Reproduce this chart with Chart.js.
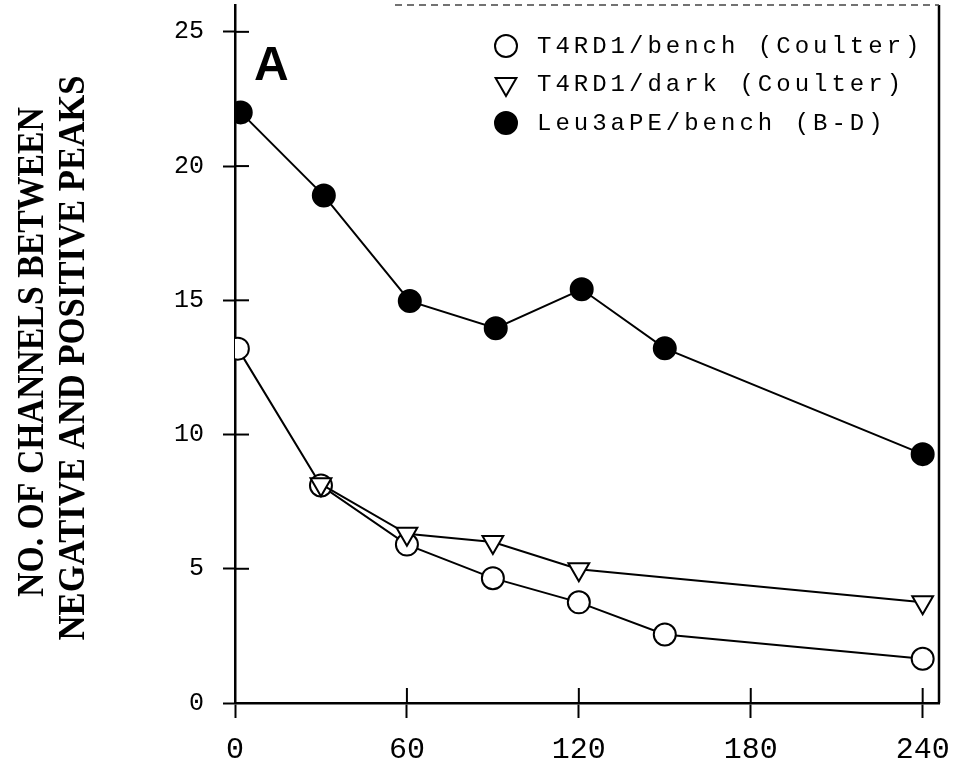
<!DOCTYPE html>
<html><head><meta charset="utf-8">
<script src="https://cdn.jsdelivr.net/npm/chart.js@4.4.1/dist/chart.umd.min.js"></script>
<style>html,body{margin:0;padding:0;background:#fff;} canvas{display:block;}</style>
</head><body>
<canvas id="c" width="963" height="771"></canvas>
<script>
const seriesLabels = ['T4RD1/bench (Coulter)', 'T4RD1/dark (Coulter)', 'Leu3aPE/bench (B-D)'];
const benchTimes = [1, 30, 60, 90, 120, 150, 240];
const benchValues = [13.2, 8.1, 5.9, 4.65, 3.75, 2.55, 1.65];
const darkTimes = [30, 60, 90, 120, 240];
const darkValues = [8.15, 6.3, 6.0, 4.98, 3.75];
const leuTimes = [2, 31, 61, 91, 121, 150, 240];
const leuValues = [22.0, 18.9, 14.97, 13.96, 15.41, 13.21, 9.27];
const xTicks = [0, 60, 120, 180, 240];
const yTicks = [0, 5, 10, 15, 20, 25];
const yTitleLines = ['NO. OF CHANNELS BETWEEN', 'NEGATIVE AND POSITIVE PEAKS'];
const panelLabel = 'A';

const pts = (xs, ys) => xs.map((x, i) => ({x: x, y: ys[i]}));

const styles = [
  {pointStyle: 'circle', rotation: 0, fill: '#fff', radius: 11},
  {pointStyle: 'triangle', rotation: 180, fill: '#fff', radius: 12},
  {pointStyle: 'circle', rotation: 0, fill: '#000', radius: 11}
];

function ds(i, xs, ys, order) {
  const s = styles[i];
  return {
    label: seriesLabels[i], data: pts(xs, ys), showLine: true, tension: 0,
    borderColor: '#000', borderWidth: 2, order: order,
    pointStyle: s.pointStyle, rotation: s.rotation, pointRadius: s.radius,
    pointHoverRadius: s.radius, pointBackgroundColor: s.fill,
    pointBorderColor: '#000', pointBorderWidth: 2
  };
}

function noPad(s) {
  s.paddingTop = 0; s.paddingBottom = 0; s.paddingLeft = 0; s.paddingRight = 0;
}

const decor = {
  id: 'decor',
  afterDraw(chart) {
    const ctx = chart.ctx, a = chart.chartArea;
    const xs = chart.scales.x, ys = chart.scales.y;
    ctx.save();
    ctx.strokeStyle = '#000';
    ctx.lineWidth = 2;
    xs.ticks.forEach(t => {
      const px = xs.getPixelForValue(t.value);
      ctx.beginPath(); ctx.moveTo(px, a.bottom); ctx.lineTo(px, a.bottom - 15); ctx.stroke();
    });
    ys.ticks.forEach(t => {
      const py = ys.getPixelForValue(t.value);
      ctx.beginPath(); ctx.moveTo(a.left, py); ctx.lineTo(a.left + 14, py); ctx.stroke();
    });
    ctx.lineWidth = 2.5;
    ctx.beginPath(); ctx.moveTo(a.right, a.top); ctx.lineTo(a.right, a.bottom); ctx.stroke();
    ctx.lineWidth = 1.5;
    ctx.strokeStyle = '#444';
    ctx.setLineDash([7, 5]);
    ctx.beginPath(); ctx.moveTo(a.left + 160, a.top); ctx.lineTo(a.right, a.top); ctx.stroke();
    ctx.setLineDash([]);
    ctx.restore();

    ctx.save();
    ctx.fillStyle = '#000';
    ctx.font = 'bold 48px "Liberation Sans", Arial, sans-serif';
    ctx.textBaseline = 'alphabetic';
    ctx.textAlign = 'left';
    ctx.fillText(panelLabel, a.left + 19, 80);
    ctx.restore();

    const centers = [[33, 352, 490], [74, 358, 565]];
    yTitleLines.forEach((txt, i) => {
      ctx.save();
      ctx.translate(centers[i][0], centers[i][1]);
      ctx.rotate(-Math.PI / 2);
      ctx.font = 'bold 37px "Liberation Serif", "Times New Roman", serif';
      const w = ctx.measureText(txt).width;
      ctx.scale(centers[i][2] / w, 1);
      ctx.fillStyle = '#000';
      ctx.textAlign = 'center';
      ctx.textBaseline = 'middle';
      ctx.fillText(txt, 0, 0);
      ctx.restore();
    });

    const rows = [46, 84, 123];
    chart.data.datasets.forEach((d, i) => {
      const s = styles[i];
      ctx.save();
      ctx.strokeStyle = '#000';
      ctx.fillStyle = s.fill;
      ctx.lineWidth = 2;
      Chart.helpers.drawPoint(ctx, {pointStyle: s.pointStyle, rotation: s.rotation, radius: s.radius, borderWidth: 2}, 506, rows[i]);
      ctx.restore();
      ctx.save();
      ctx.fillStyle = '#000';
      ctx.font = '24px "Liberation Mono", "DejaVu Sans Mono", monospace';
      try { ctx.letterSpacing = '4px'; } catch (e) {}
      ctx.textBaseline = 'middle';
      ctx.textAlign = 'left';
      ctx.fillText(d.label, 537, rows[i] + 1);
      ctx.restore();
    });
  }
};

new Chart(document.getElementById('c'), {
  type: 'scatter',
  data: {
    datasets: [
      ds(0, benchTimes, benchValues, 2),
      ds(1, darkTimes, darkValues, 1),
      ds(2, leuTimes, leuValues, 3)
    ]
  },
  options: {
    responsive: false, animation: false, devicePixelRatio: 1,
    layout: {autoPadding: false, padding: {top: 5, right: 24, left: 0, bottom: 0}},
    plugins: {legend: {display: false}, tooltip: {enabled: false}},
    scales: {
      x: {
        type: 'linear', min: 0, max: 245.7,
        afterBuildTicks: s => { s.ticks = xTicks.map(v => ({value: v})); },
        afterFit: s => { s.height = 68; noPad(s); },
        border: {display: true, color: '#000', width: 2.5},
        grid: {display: true, drawOnChartArea: false, drawTicks: true, tickLength: 15, tickColor: '#000', tickWidth: 2, color: '#000'},
        ticks: {color: '#000', padding: 14, maxRotation: 0, autoSkip: false,
          font: {family: '"Liberation Mono", "DejaVu Sans Mono", monospace', size: 30}}
      },
      y: {
        type: 'linear', min: 0, max: 26,
        afterBuildTicks: s => { s.ticks = yTicks.map(v => ({value: v})); },
        afterFit: s => { s.width = 235; noPad(s); },
        border: {display: true, color: '#000', width: 2.5},
        grid: {display: true, drawOnChartArea: false, drawTicks: true, tickLength: 12, tickColor: '#000', tickWidth: 2, color: '#000'},
        ticks: {color: '#000', padding: 19, autoSkip: false,
          font: {family: '"Liberation Mono", "DejaVu Sans Mono", monospace', size: 25}}
      }
    }
  },
  plugins: [decor]
});
</script>
</body></html>
